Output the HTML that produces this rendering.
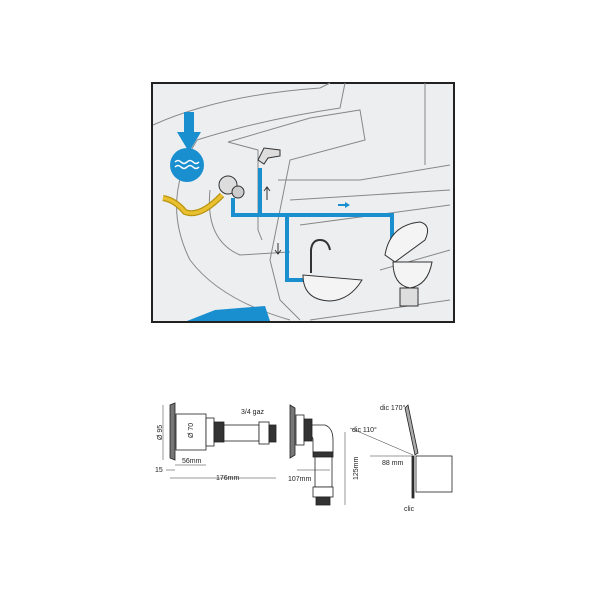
<!DOCTYPE html>
<html><head><style>
body{margin:0;background:#fff;width:600px;height:600px;overflow:hidden}
svg{display:block}
text{font-family:"Liberation Sans",sans-serif;font-size:7px;fill:#222}
</style></head><body>
<svg width="600" height="600" viewBox="0 0 600 600">
<!-- top illustration -->
<rect x="152" y="83" width="302" height="239" fill="#eceef0" stroke="#222" stroke-width="2"/>
<g fill="none" stroke="#888" stroke-width="1">
<path d="M153 125 Q220 95 320 88 L330 83"/>
<path d="M197 140 Q260 120 340 108 L345 83"/>
<path d="M197 140 Q160 200 190 260 Q220 300 290 320"/>
<path d="M210 190 Q205 240 240 255 L290 252"/>
<path d="M228 142 L310 118 L360 110 L365 140 L290 160 L270 260 L280 300 L300 320"/>
<path d="M278 180 L360 180 L450 165"/>
<path d="M290 200 L450 190"/>
<path d="M300 225 L450 205"/>
<path d="M425 83 L425 165"/>
<path d="M380 270 L450 250"/>
<path d="M310 320 L450 300"/>
<path d="M228 142 L258 150 L258 230 L262 240"/>
</g>
<polygon points="187,321 270,321 265,306 215,310" fill="#1a8fcf"/>
<!-- blue arrow + water -->
<rect x="184" y="112" width="10" height="22" fill="#1a8fcf"/>
<polygon points="177,132 201,132 189,152" fill="#1a8fcf"/>
<circle cx="187" cy="165" r="17" fill="#1a8fcf"/>
<path d="M175 162 q3-3 6 0 t6 0 t6 0 t6 0 M175 167 q3-3 6 0 t6 0 t6 0 t6 0" stroke="#fff" stroke-width="1.5" fill="none"/>
<!-- yellow hose -->
<path d="M163 198 Q175 200 185 212 Q200 218 222 195" stroke="#b8940f" stroke-width="6" fill="none"/>
<path d="M163 198 Q175 200 185 212 Q200 218 222 195" stroke="#e8c030" stroke-width="3.5" fill="none"/>
<!-- valve -->
<circle cx="228" cy="185" r="9" fill="#ddd" stroke="#333"/>
<circle cx="238" cy="192" r="6" fill="#ccc" stroke="#333"/>
<!-- faucet top -->
<path d="M258 160 l6-12 l16 2 l0 6 l-12 2 l-4 6z" fill="#ddd" stroke="#333"/>
<!-- pipes -->
<g stroke="#1a8fcf" stroke-width="4" fill="none">
<path d="M233 198 V215 H392 V248"/>
<path d="M260 168 V215"/>
<path d="M287 215 V280 H305"/>
</g>
<path d="M267 200 V188 M264 191 l3-4 l3 4" stroke="#333" fill="none"/>
<path d="M278 243 V253 M275 250 l3 4 l3-4" stroke="#333" fill="none"/>
<path d="M338 205 H345" stroke="#1a8fcf" stroke-width="2"/><polygon points="345,202 350,205 345,208" fill="#1a8fcf"/>
<!-- sink -->
<path d="M303 275 Q303 300 330 301 Q350 300 362 280 Z" fill="#f4f4f4" stroke="#333"/>
<path d="M311 273 V250 Q312 240 320 240 Q328 240 330 250" stroke="#333" stroke-width="2" fill="none"/>
<!-- toilet -->
<path d="M385 255 Q390 225 420 222 Q432 225 425 240 L395 262Z" fill="#f4f4f4" stroke="#333"/>
<path d="M393 262 Q393 285 410 288 Q428 285 432 262 Z" fill="#f4f4f4" stroke="#333"/>
<rect x="400" y="288" width="18" height="18" fill="#ddd" stroke="#333"/>
<!-- bottom drawing -->
<g fill="#fff" stroke="#222" stroke-width="0.8">
<path d="M170 405 L175 403 L175 460 L170 458Z" fill="#777"/>
<rect x="176" y="414" width="30" height="36"/>
<rect x="206" y="418" width="8" height="28"/>
<rect x="214" y="422" width="10" height="20" fill="#333"/>
<rect x="224" y="425" width="35" height="16"/>
<rect x="259" y="422" width="10" height="22"/>
<rect x="269" y="425" width="7" height="17" fill="#333"/>
<path d="M290 405 L295 408 L295 455 L290 458Z" fill="#777"/>
<rect x="296" y="415" width="8" height="30"/>
<rect x="304" y="419" width="8" height="22" fill="#333"/>
<path d="M312 425 H325 Q333 428 333 440 V452 H313 V440 Q313 437 312 437Z"/>
<rect x="313" y="452" width="20" height="5" fill="#333"/>
<rect x="315" y="457" width="17" height="30"/>
<rect x="313" y="487" width="20" height="10"/>
<rect x="316" y="497" width="14" height="8" fill="#333"/>
<rect x="416" y="456" width="36" height="36"/>
<path d="M412 456 L414 456 L414 498 L412 498Z" fill="#333"/>
<path d="M405 408 L408 405 L418 453 L415 455Z" fill="#aaa"/>
</g>
<g stroke="#333" stroke-width="0.5" fill="none">
<path d="M163 405 V460 M176 415 V448 M175 465 H206 M170 478 H276 M166 470 H175 M297 470 H330 M345 432 V505 M370 456 H412 M350 428 L413 455"/>
</g>
<text x="149" y="437" transform="rotate(-90 157 432)">Ø 95</text>
<text x="182" y="437" transform="rotate(-90 188 432)">Ø 70</text>
<text x="182" y="463">56mm</text>
<text x="155" y="472">15</text>
<text x="216" y="480">176mm</text>
<text x="241" y="414">3/4 gaz</text>
<text x="288" y="481">107mm</text>
<text x="340" y="478" transform="rotate(-90 350 470)">125mm</text>
<text x="380" y="410">dic 170°</text>
<text x="352" y="432">dic 110°</text>
<text x="382" y="465">88 mm</text>
<text x="404" y="511">clic</text>
</svg>
</body></html>
